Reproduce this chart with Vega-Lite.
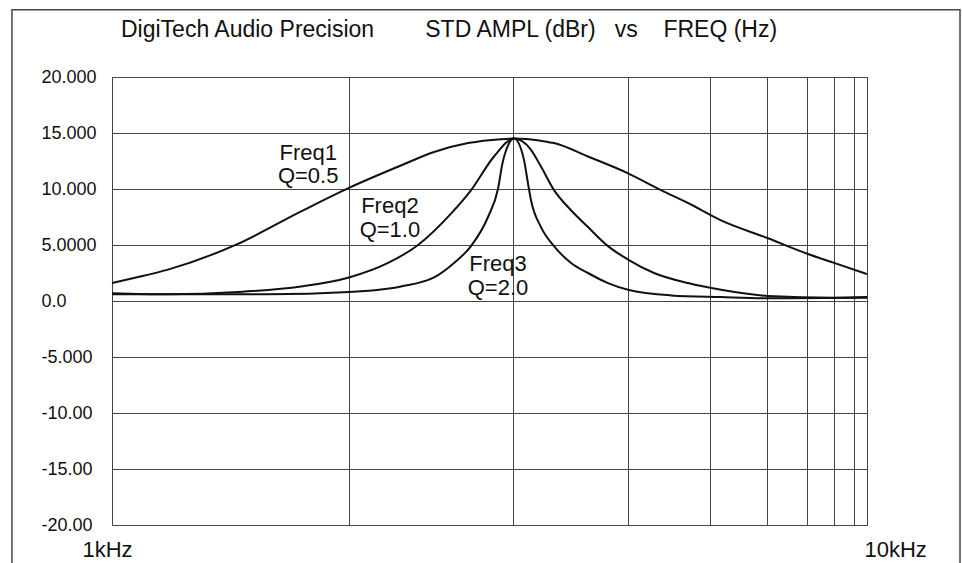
{
  "$schema": "https://vega.github.io/schema/vega-lite/v6.json",
  "width": 755,
  "height": 448,
  "padding": {"left": 11, "top": 9, "right": 0, "bottom": 0},
  "background": "white",
  "config": {
    "view": {"stroke": "#333", "strokeWidth": 1},
    "font": "Liberation Sans"
  },
  "title": {
    "text": "DigiTech Audio Precision\u00a0\u00a0\u00a0\u00a0\u00a0\u00a0\u00a0\u00a0STD AMPL (dBr)\u00a0\u00a0\u00a0vs\u00a0\u00a0\u00a0\u00a0FREQ (Hz)",
    "anchor": "start",
    "frame": "group",
    "dx": 9,
    "offset": -51,
    "baseline": "alphabetic",
    "fontSize": 23,
    "fontWeight": "normal",
    "font": "Liberation Sans",
    "color": "#111"
  },
  "datasets": {
    "curves": [
      {"series": "Q=0.5", "freq": 1000, "dB": 1.6},
      {"series": "Q=0.5", "freq": 1069, "dB": 2.05},
      {"series": "Q=0.5", "freq": 1186, "dB": 2.8},
      {"series": "Q=0.5", "freq": 1468, "dB": 5.1},
      {"series": "Q=0.5", "freq": 1780, "dB": 8.0},
      {"series": "Q=0.5", "freq": 2060, "dB": 10.1},
      {"series": "Q=0.5", "freq": 2414, "dB": 12.1},
      {"series": "Q=0.5", "freq": 2670, "dB": 13.3},
      {"series": "Q=0.5", "freq": 2962, "dB": 14.1},
      {"series": "Q=0.5", "freq": 3275, "dB": 14.45},
      {"series": "Q=0.5", "freq": 3408, "dB": 14.5},
      {"series": "Q=0.5", "freq": 3700, "dB": 14.3},
      {"series": "Q=0.5", "freq": 3850, "dB": 14.1},
      {"series": "Q=0.5", "freq": 4270, "dB": 12.9},
      {"series": "Q=0.5", "freq": 4825, "dB": 11.4},
      {"series": "Q=0.5", "freq": 5336, "dB": 9.9},
      {"series": "Q=0.5", "freq": 5793, "dB": 8.75},
      {"series": "Q=0.5", "freq": 6408, "dB": 7.2},
      {"series": "Q=0.5", "freq": 7394, "dB": 5.6},
      {"series": "Q=0.5", "freq": 8352, "dB": 4.2},
      {"series": "Q=0.5", "freq": 9044, "dB": 3.4},
      {"series": "Q=0.5", "freq": 10000, "dB": 2.4},
      {"series": "Q=1.0", "freq": 1000, "dB": 0.7},
      {"series": "Q=1.0", "freq": 1186, "dB": 0.6},
      {"series": "Q=1.0", "freq": 1468, "dB": 0.8},
      {"series": "Q=1.0", "freq": 1780, "dB": 1.3},
      {"series": "Q=1.0", "freq": 2060, "dB": 2.1},
      {"series": "Q=1.0", "freq": 2321, "dB": 3.4},
      {"series": "Q=1.0", "freq": 2543, "dB": 5.0},
      {"series": "Q=1.0", "freq": 2812, "dB": 7.8},
      {"series": "Q=1.0", "freq": 2990, "dB": 9.9},
      {"series": "Q=1.0", "freq": 3206, "dB": 12.9},
      {"series": "Q=1.0", "freq": 3408, "dB": 14.5},
      {"series": "Q=1.0", "freq": 3589, "dB": 13.5},
      {"series": "Q=1.0", "freq": 3700, "dB": 12.0},
      {"series": "Q=1.0", "freq": 3850, "dB": 9.9},
      {"series": "Q=1.0", "freq": 4055, "dB": 8.1},
      {"series": "Q=1.0", "freq": 4270, "dB": 6.6},
      {"series": "Q=1.0", "freq": 4539, "dB": 4.9},
      {"series": "Q=1.0", "freq": 4825, "dB": 3.7},
      {"series": "Q=1.0", "freq": 5223, "dB": 2.5},
      {"series": "Q=1.0", "freq": 5793, "dB": 1.6},
      {"series": "Q=1.0", "freq": 6408, "dB": 1.0},
      {"series": "Q=1.0", "freq": 7394, "dB": 0.45},
      {"series": "Q=1.0", "freq": 9044, "dB": 0.3},
      {"series": "Q=1.0", "freq": 10000, "dB": 0.35},
      {"series": "Q=2.0", "freq": 1000, "dB": 0.6},
      {"series": "Q=2.0", "freq": 1609, "dB": 0.6},
      {"series": "Q=2.0", "freq": 2060, "dB": 0.8},
      {"series": "Q=2.0", "freq": 2414, "dB": 1.3},
      {"series": "Q=2.0", "freq": 2670, "dB": 2.1},
      {"series": "Q=2.0", "freq": 2838, "dB": 3.4},
      {"series": "Q=2.0", "freq": 2989, "dB": 4.9},
      {"series": "Q=2.0", "freq": 3148, "dB": 7.5},
      {"series": "Q=2.0", "freq": 3245, "dB": 10.0},
      {"series": "Q=2.0", "freq": 3290, "dB": 12.3},
      {"series": "Q=2.0", "freq": 3346, "dB": 13.9},
      {"series": "Q=2.0", "freq": 3408, "dB": 14.5},
      {"series": "Q=2.0", "freq": 3513, "dB": 12.6},
      {"series": "Q=2.0", "freq": 3556, "dB": 10.5},
      {"series": "Q=2.0", "freq": 3589, "dB": 9.0},
      {"series": "Q=2.0", "freq": 3700, "dB": 6.6},
      {"series": "Q=2.0", "freq": 3850, "dB": 4.9},
      {"series": "Q=2.0", "freq": 4055, "dB": 3.4},
      {"series": "Q=2.0", "freq": 4270, "dB": 2.5},
      {"series": "Q=2.0", "freq": 4539, "dB": 1.6},
      {"series": "Q=2.0", "freq": 4825, "dB": 1.0},
      {"series": "Q=2.0", "freq": 5501, "dB": 0.5},
      {"series": "Q=2.0", "freq": 6408, "dB": 0.35},
      {"series": "Q=2.0", "freq": 7394, "dB": 0.25},
      {"series": "Q=2.0", "freq": 10000, "dB": 0.3}
    ],
    "labels": [
      {"text": "Freq1", "freq": 1819, "dB": 12.6},
      {"text": "Q=0.5", "freq": 1819, "dB": 10.5},
      {"text": "Freq2", "freq": 2334, "dB": 7.9},
      {"text": "Q=1.0", "freq": 2334, "dB": 5.7},
      {"text": "Freq3", "freq": 3245, "dB": 2.7},
      {"text": "Q=2.0", "freq": 3245, "dB": 0.55}
    ]
  },
  "layer": [
    {
      "data": {"name": "curves"},
      "mark": {"type": "line", "color": "#111", "strokeWidth": 2, "interpolate": "monotone"},
      "encoding": {
        "x": {
          "field": "freq",
          "type": "quantitative",
          "scale": {"type": "log", "domain": [1000, 10000], "nice": false, "zero": false},
          "axis": {
            "title": null,
            "values": [1000, 2060, 3397, 4825, 6196, 7371, 8326, 9044, 9612, 10000],
            "labelExpr": "datum.value == 1000 ? '1kHz' : (datum.value == 10000 ? '10kHz' : '')",
            "grid": true,
            "gridColor": "#444",
            "gridWidth": 1,
            "gridOpacity": 1,
            "ticks": false,
            "tickSize": 0,
            "domain": false,
            "labelFont": "Liberation Sans",
            "labelFontSize": 22,
            "labelColor": "#111",
            "labelPadding": 14,
            "labelBaseline": "top",
            "labelAlign": {"condition": {"test": "datum.value == 1000", "value": "center"}, "value": "left"},
            "labelOffset": {"condition": {"test": "datum.value == 1000", "value": -5}, "value": -3},
            "labelOverlap": false,
            "labelFlush": false,
            "labelBound": false
          }
        },
        "y": {
          "field": "dB",
          "type": "quantitative",
          "scale": {"domain": [-20, 20], "nice": false, "zero": false},
          "axis": {
            "title": null,
            "values": [-20, -15, -10, -5, 0, 5, 10, 15, 20],
            "labelExpr": "datum.value == 20 ? '20.000' : datum.value == 15 ? '15.000' : datum.value == 10 ? '10.000' : datum.value == 5 ? '5.0000' : datum.value == 0 ? '0.0' : datum.value == -5 ? '-5.000' : datum.value == -10 ? '-10.00' : datum.value == -15 ? '-15.00' : '-20.00'",
            "grid": true,
            "gridColor": "#444",
            "gridWidth": 1,
            "gridOpacity": 1,
            "ticks": false,
            "tickSize": 0,
            "domain": false,
            "labelFont": "Liberation Sans",
            "labelFontSize": 18,
            "labelColor": "#111",
            "labelAlign": "left",
            "labelBaseline": "middle",
            "labelPadding": 71,
            "labelOverlap": false,
            "labelFlush": false
          }
        },
        "detail": {"field": "series", "type": "nominal"}
      }
    },
    {
      "data": {"name": "labels"},
      "mark": {"type": "text", "font": "Liberation Sans", "fontSize": 22, "color": "#111", "align": "center", "baseline": "alphabetic"},
      "encoding": {
        "x": {"field": "freq", "type": "quantitative"},
        "y": {"field": "dB", "type": "quantitative"},
        "text": {"field": "text", "type": "nominal"}
      }
    },
    {
      "data": {"values": [{}]},
      "mark": {"type": "rect", "fill": null, "stroke": "#444", "strokeWidth": 1.5, "clip": false},
      "encoding": {
        "x": {"datum": 737, "type": "quantitative"},
        "x2": {"datum": 13280},
        "y": {"datum": 26, "type": "quantitative"},
        "y2": {"datum": -24.5}
      }
    }
  ]
}
